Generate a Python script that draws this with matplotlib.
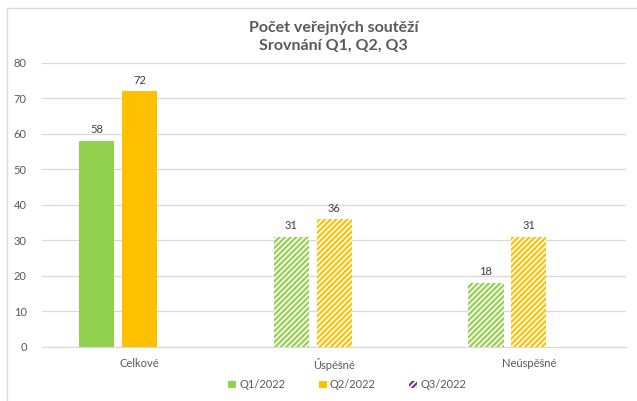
import numpy as np
import matplotlib
matplotlib.use("Agg")
import matplotlib.pyplot as plt
from matplotlib.patches import Rectangle

plt.rcParams["font.family"] = ["Lato", "DejaVu Sans"]
plt.rcParams["hatch.linewidth"] = 1.5

# Data
categories = ["Celkové", "Úspěšné", "Neúspěšné"]
series_names = ["Q1/2022", "Q2/2022", "Q3/2022"]
q1_values = [58, 31, 18]
q2_values = [72, 36, 31]
q3_values = [np.nan, np.nan, np.nan]  # no data for Q3 yet

colors = ["#92D050", "#FFC000", "#7030A0"]
text_gray = "#595959"
grid_gray = "#D9D9D9"

fig = plt.figure(figsize=(6.37, 4.01), dpi=100)
ax = fig.add_axes([0.066, 0.135, 0.917, 0.708])

x = np.arange(len(categories))
width = 0.18
offsets = [-0.22, 0.0, 0.22]

for vals, name, col, off in zip([q1_values, q2_values, q3_values], series_names, colors, offsets):
    bars = ax.bar(x + off, vals, width, label=name, color=col, linewidth=0, zorder=3)
    # first category solid, the rest with diagonal stripes
    for i, b in enumerate(bars):
        if i > 0 or name == "Q3/2022":
            b.set_facecolor("#FAFAF0")
            b.set_edgecolor(col)
            b.set_hatch("//////")
    for b, v in zip(bars, vals):
        if not np.isnan(v):
            ax.annotate(f"{v:g}", (b.get_x() + b.get_width() / 2, v),
                        xytext=(0, 4), textcoords="offset points",
                        ha="center", va="bottom", fontsize=8, color="#404040")

ax.set_xlim(-0.5, 2.5)
ax.set_ylim(0, 80)
ax.set_yticks(range(0, 81, 10))
ax.set_xticks(x)
ax.set_xticklabels(categories)
ax.tick_params(axis="both", length=0, labelsize=8, labelcolor=text_gray)
ax.tick_params(axis="y", pad=11)
ax.tick_params(axis="x", pad=8)
ax.yaxis.grid(True, color=grid_gray, linewidth=0.9, zorder=0)
for s in ["left", "right", "top"]:
    ax.spines[s].set_visible(False)
ax.spines["bottom"].set_color(grid_gray)
ax.set_axisbelow(True)

fig.text(0.5 + 0.024, 0.908, "Počet veřejných soutěží\nSrovnání Q1, Q2, Q3",
         ha="center", va="center", fontsize=11.5, fontweight="bold",
         color=text_gray, linespacing=1.3)

leg = fig.legend(loc="center", bbox_to_anchor=(0.545, 0.04), ncol=3, frameon=False,
                 fontsize=8, handlelength=0.7, handleheight=0.7, handletextpad=0.3,
                 columnspacing=3.0, labelcolor=text_gray)

# chart area border (only left/top are inside the image)
fig.patches.append(Rectangle((7 / 637, -0.1), 1.2, 1.1 - 8 / 401, transform=fig.transFigure,
                             fill=False, edgecolor=grid_gray, linewidth=1.0))

fig.savefig("out.png", dpi=100)
